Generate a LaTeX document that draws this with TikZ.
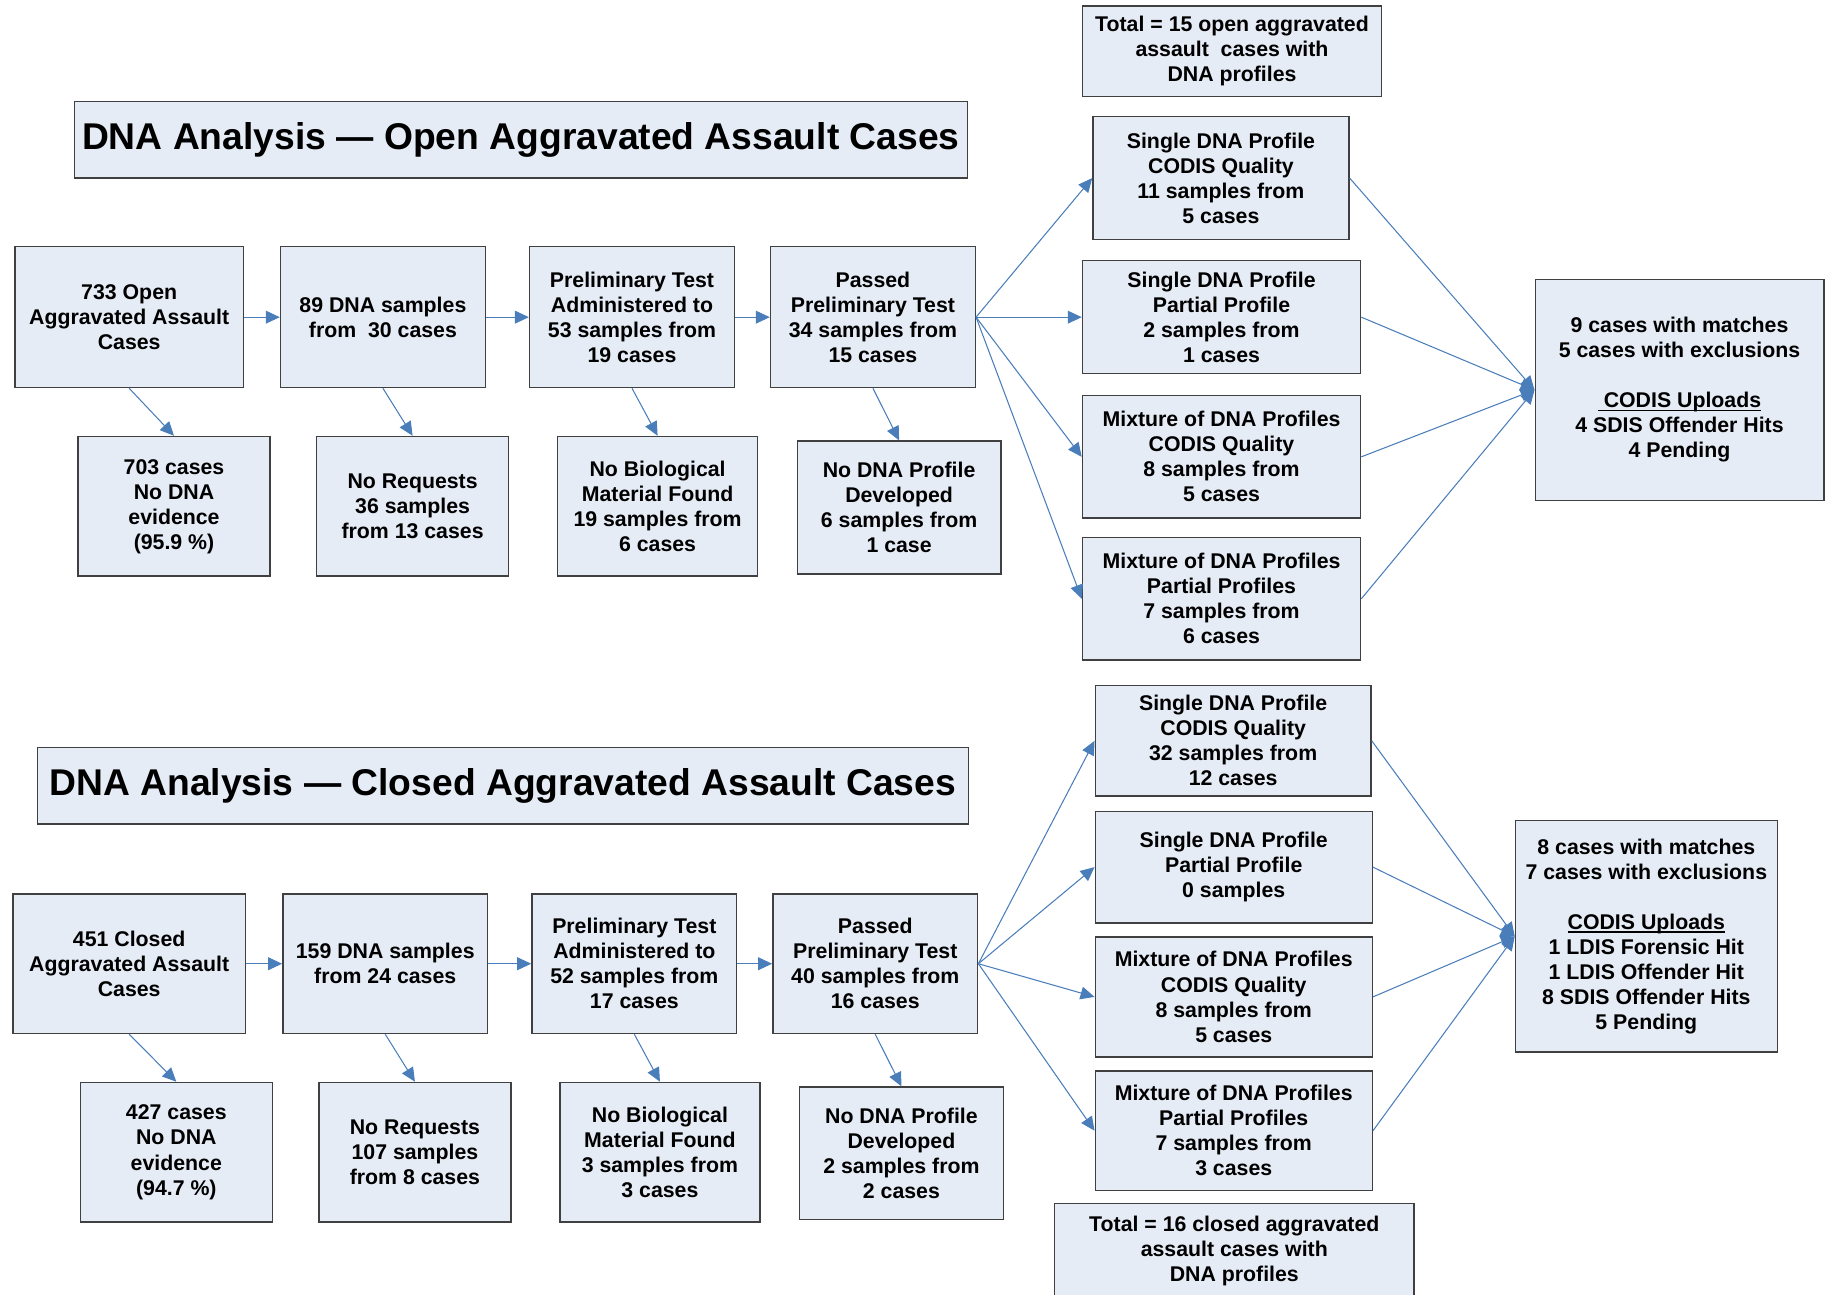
\documentclass[tikz,border=0pt]{standalone}
\usepackage{fontspec}
\setmainfont{Liberation Sans}
\usetikzlibrary{arrows.meta}
\definecolor{boxfill}{RGB}{230,236,246}
\definecolor{boxline}{RGB}{64,64,64}
\definecolor{flow}{RGB}{74,126,187}
% box from its corner coordinates: [style]{name}{x1}{y1}{x2}{y2}{text}
\newcommand\dnabox[7][box]{%
  \node[#1, minimum width={#5-#3}, minimum height={#6-#4}] (#2)
    at ({(#3+#5)/2},{(#4+#6)/2}) {#7};}
% underlined heading inside a box
\newcommand\headrule[1]{\setbox0\hbox{#1}%
  \rlap{\raisebox{-3pt}{\rule{\wd0}{1.3pt}}}\box0}
\begin{document}
\begin{tikzpicture}[x=1pt,y=-1pt,
  box/.style={draw=boxline, fill=boxfill, line width=1.2pt, align=center,
    inner sep=0pt, font=\bfseries\fontsize{18.3}{21.5}\selectfont},
  titlebox/.style={box, font=\bfseries\fontsize{32}{38}\selectfont},
  flowline/.style={draw=flow, line width=0.9pt,
    -{Triangle[length=12pt,width=11pt]}}]
\useasboundingbox (0,0) rectangle (1568,1112);
\clip (0,0) rectangle (1568,1112);

% ---------------- open cases ----------------
\dnabox[titlebox]{t1}{64}{87}{831}{153}{DNA Analysis --- Open Aggravated Assault Cases}
\dnabox{tt}{930}{5}{1187}{83}{Total = 15 open aggravated\\assault\ \ cases with\\DNA profiles}
\dnabox{a1}{13}{212}{209}{333}{733 Open\\Aggravated Assault\\Cases}
\dnabox{a2}{241}{212}{417}{333}{89 DNA samples\\from\ \ 30 cases}
\dnabox{a3}{455}{212}{631}{333}{Preliminary Test\\Administered to\\53 samples from\\19 cases}
\dnabox{a4}{662}{212}{838}{333}{Passed\\Preliminary Test\\34 samples from\\15 cases}
\dnabox{b1}{67}{375}{232}{495}{703 cases\\No DNA\\evidence\\(95.9 \%)}
\dnabox{b2}{272}{375}{437}{495}{No Requests\\36 samples\\from 13 cases}
\dnabox{b3}{479}{375}{651}{495}{No Biological\\Material Found\\19 samples from\\6 cases}
\dnabox{b4}{685}{379}{860}{493}{No DNA Profile\\Developed\\6 samples from\\1 case}
\dnabox{c1}{939}{100}{1159}{206}{Single DNA Profile\\CODIS Quality\\11 samples from\\5 cases}
\dnabox{c2}{930}{224}{1169}{321}{Single DNA Profile\\Partial Profile\\2 samples from\\1 cases}
\dnabox{c3}{930}{340}{1169}{445}{Mixture of DNA Profiles\\CODIS Quality\\8 samples from\\5 cases}
\dnabox{c4}{930}{462}{1169}{567}{Mixture of DNA Profiles\\Partial Profiles\\7 samples from\\6 cases}
\dnabox{d}{1319}{240}{1567}{430}{9 cases with matches\\5 cases with exclusions\\[21.5pt]\headrule{\ CODIS Uploads}\\4 SDIS Offender Hits\\4 Pending}

\foreach \s/\t in {a1/a2,a2/a3,a3/a4} \draw[flowline] (\s.east) -- (\t.west);
\foreach \s/\t in {a1/b1,a2/b2,a3/b3,a4/b4} \draw[flowline] (\s.south) -- (\t.north);
\foreach \t in {c1,c2,c3,c4} \draw[flowline] (a4.east) -- (\t.west);
\foreach \s in {c1,c2,c3,c4} \draw[flowline] (\s.east) -- (d.west);

% ---------------- closed cases ----------------
\dnabox[titlebox]{t2}{32}{642}{832}{708}{DNA Analysis --- Closed Aggravated Assault Cases}
\dnabox{e1}{11}{768}{211}{888}{451 Closed\\Aggravated Assault\\Cases}
\dnabox{e2}{243}{768}{419}{888}{159 DNA samples\\from 24 cases}
\dnabox{e3}{457}{768}{633}{888}{Preliminary Test\\Administered to\\52 samples from\\17 cases}
\dnabox{e4}{664}{768}{840}{888}{Passed\\Preliminary Test\\40 samples from\\16 cases}
\dnabox{f1}{69}{930}{234}{1050}{427 cases\\No DNA\\evidence\\(94.7 \%)}
\dnabox{f2}{274}{930}{439}{1050}{No Requests\\107 samples\\from 8 cases}
\dnabox{f3}{481}{930}{653}{1050}{No Biological\\Material Found\\3 samples from\\3 cases}
\dnabox{f4}{687}{934}{862}{1048}{No DNA Profile\\Developed\\2 samples from\\2 cases}
\dnabox{g1}{941}{589}{1178}{684}{Single DNA Profile\\CODIS Quality\\32 samples from\\12 cases}
\dnabox{g2}{941}{697}{1179}{793}{Single DNA Profile\\Partial Profile\\0 samples}
\dnabox{g3}{941}{805}{1179}{908}{Mixture of DNA Profiles\\CODIS Quality\\8 samples from\\5 cases}
\dnabox{g4}{941}{920}{1179}{1023}{Mixture of DNA Profiles\\Partial Profiles\\7 samples from\\3 cases}
\dnabox{h}{1302}{705}{1527}{904}{8 cases with matches\\7 cases with exclusions\\[21.5pt]\headrule{CODIS Uploads}\\1 LDIS Forensic Hit\\1 LDIS Offender Hit\\8 SDIS Offender Hits\\5 Pending}
\dnabox{tb}{906}{1034}{1215}{1116}{Total = 16 closed aggravated\\assault cases with\\DNA profiles}

\foreach \s/\t in {e1/e2,e2/e3,e3/e4} \draw[flowline] (\s.east) -- (\t.west);
\foreach \s/\t in {e1/f1,e2/f2,e3/f3,e4/f4} \draw[flowline] (\s.south) -- (\t.north);
\foreach \t in {g1,g2,g3,g4} \draw[flowline] (e4.east) -- (\t.west);
\foreach \s in {g1,g2,g3,g4} \draw[flowline] (\s.east) -- (h.west);
\end{tikzpicture}
\end{document}
